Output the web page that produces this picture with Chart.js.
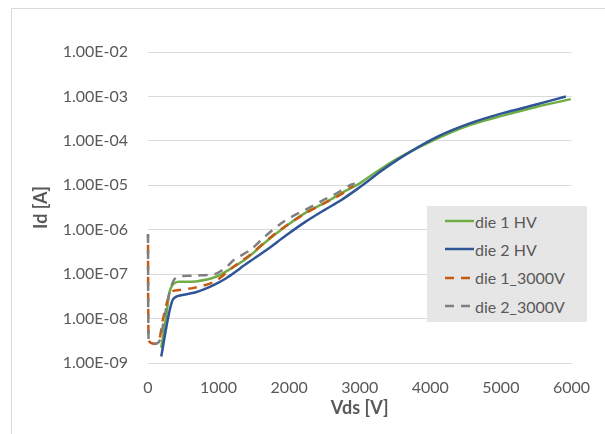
<!DOCTYPE html>
<html>
<head>
<meta charset="utf-8">
<script src="https://cdn.jsdelivr.net/npm/chart.js@4.4.1/dist/chart.umd.min.js"></script>
<style>
  body { margin: 0; background: #fff; }
  #wrap { position: relative; width: 605px; height: 434px; }
  #legend {
    position: absolute; left: 427px; top: 206px; width: 160px; height: 116px;
    background: #e7e6e6; font: 16px Lato, sans-serif; color: #595959;
    padding-top: 1px; box-sizing: border-box;
  }
  #legend .row { display: flex; align-items: center; height: 28.3px; }
  #legend svg { margin-left: 18px; margin-right: 1px; }
</style>
</head>
<body>
<div id="wrap">
  <canvas id="grafico" width="605" height="434"></canvas>
  <div id="legend"></div>
</div>
<script>
// Vds [V] / Id [A] readings per die
const die1HvV = [188, 257, 303, 348, 417, 530, 700, 943, 1128, 1404, 1679, 1954, 2229, 2504, 2779, 2963, 3147, 3510, 4110, 4569, 5028, 5487, 5990];
const die1HvI = [2.2e-9, 1.1e-8, 3.8e-8, 5.8e-8, 6.7e-8, 6.7e-8, 6.9e-8, 8.5e-8, 1.2e-7, 2.3e-7, 5.5e-7, 1.2e-6, 2.4e-6, 4.0e-6, 7.2e-6, 1.02e-5, 1.6e-5, 3.8e-5, 1.15e-4, 2.3e-4, 3.7e-4, 5.7e-4, 8.7e-4];

const die2HvV = [188, 279, 348, 417, 650, 800, 943, 1128, 1404, 1679, 1954, 2229, 2504, 2734, 2963, 3147, 3284, 3651, 4110, 4569, 5028, 5487, 5921];
const die2HvI = [1.4e-9, 9.3e-9, 2.6e-8, 3.2e-8, 3.8e-8, 4.6e-8, 5.8e-8, 8.5e-8, 1.75e-7, 3.5e-7, 7.4e-7, 1.5e-6, 2.8e-6, 4.6e-6, 8.2e-6, 1.35e-5, 2.0e-5, 4.9e-5, 1.26e-4, 2.5e-4, 4.2e-4, 6.5e-4, 1.0e-3];

const die1_3000V = [0, 8, 80, 150, 210, 279, 348, 440, 650, 943, 1220, 1449, 1816, 2183, 2504, 2734, 2826, 2911];
const die1_3000I = [7.7e-7, 3.3e-9, 2.7e-9, 3.0e-9, 9.3e-9, 2.6e-8, 4.1e-8, 4.4e-8, 4.9e-8, 6.8e-8, 1.5e-7, 2.75e-7, 8.5e-7, 2.1e-6, 4.0e-6, 6.2e-6, 7.9e-6, 9.8e-6];

const die2_3000V = [0, 8, 96, 162, 234, 303, 372, 440, 650, 943, 1100, 1220, 1449, 1633, 1862, 2046, 2229, 2459, 2642, 2872, 2930];
const die2_3000I = [8.0e-7, 3.3e-9, 2.7e-9, 3.1e-9, 1.1e-8, 3.8e-8, 7.6e-8, 8.9e-8, 9.3e-8, 1.0e-7, 1.4e-7, 2.1e-7, 3.5e-7, 6.5e-7, 1.3e-6, 2.0e-6, 2.8e-6, 4.4e-6, 6.2e-6, 1.02e-5, 1.1e-5];

const xTickLabels = ['0', '1000', '2000', '3000', '4000', '5000', '6000'];
const yTicks = [1e-9, 1e-8, 1e-7, 1e-6, 1e-5, 1e-4, 1e-3, 1e-2];
const yTickLabels = ['1.00E-09', '1.00E-08', '1.00E-07', '1.00E-06', '1.00E-05', '1.00E-04', '1.00E-03', '1.00E-02'];

const pontos = (xs, ys) => xs.map((x, i) => ({ x: x, y: ys[i] }));

const cinza = '#595959';
const grade = '#d9d9d9';

function serie(label, xs, ys, cor, tracejado, deslocamento, ordem) {
    return {
        label: label,
        data: pontos(xs, ys),
        borderColor: cor,
        backgroundColor: cor,
        borderWidth: 2.5,
        borderDash: tracejado,
        borderDashOffset: deslocamento,
        pointRadius: 0,
        tension: 0.3,
        clip: 4,
        order: ordem
    };
}

const datasets = [
    serie('die 1 HV', die1HvV, die1HvI, '#70ad47', [], 0, 3),
    serie('die 2 HV', die2HvV, die2HvI, '#2f5597', [], 0, 2),
    serie('die 1_3000V', die1_3000V, die1_3000I, '#c55a11', [9, 7], 6, 1),
    serie('die 2_3000V', die2_3000V, die2_3000I, '#7f7f7f', [9, 7], 0, 0)
];

// outer chart frame
const moldura = {
    id: 'moldura',
    beforeDraw(chart) {
        const ctx = chart.ctx;
        ctx.save();
        ctx.strokeStyle = grade;
        ctx.lineWidth = 1;
        ctx.strokeRect(11.5, 8.5, 640, 460);
        ctx.restore();
    }
};

Chart.defaults.font.family = 'Lato, sans-serif';

const grafico = new Chart(document.getElementById('grafico').getContext('2d'), {
    type: 'scatter',
    data: { datasets: datasets },
    options: {
        responsive: false,
        animation: false,
        showLine: true,
        layout: { padding: { left: 0, top: 52, right: 21, bottom: 0 } },
        plugins: {
            legend: { display: false },
            tooltip: { enabled: false }
        },
        scales: {
            x: {
                type: 'linear',
                min: 0,
                max: 6000,
                afterFit: function (scale) { scale.height = 71; },
                grid: { display: false, drawTicks: false },
                border: { display: true, color: grade, width: 1 },
                ticks: {
                    stepSize: 1000,
                    padding: 15,
                    color: cinza,
                    font: { size: 16 },
                    callback: function (v, i) { return xTickLabels[i]; }
                },
                title: {
                    display: true,
                    text: 'Vds [V]',
                    color: cinza,
                    font: { size: 18, weight: 'bold' },
                    padding: { top: 0, bottom: 15 }
                }
            },
            y: {
                type: 'logarithmic',
                min: 1e-9,
                max: 1e-2,
                afterFit: function (scale) { scale.width = 148; },
                afterBuildTicks: function (scale) {
                    scale.ticks = yTicks.map(v => ({ value: v }));
                },
                grid: { color: grade, lineWidth: 1, drawTicks: false },
                border: { display: false },
                ticks: {
                    padding: 20,
                    color: cinza,
                    font: { size: 16 },
                    callback: function (v, i) { return yTickLabels[i]; }
                },
                title: {
                    display: true,
                    text: 'Id [A]',
                    color: cinza,
                    font: { size: 18, weight: 'bold' },
                    padding: { top: 30, bottom: 0 }
                }
            }
        }
    },
    plugins: [moldura]
});

// legend box
const legenda = document.getElementById('legend');
grafico.data.datasets.forEach(ds => {
    const linha = document.createElement('div');
    linha.className = 'row';
    const dash = ds.borderDash.length ? ds.borderDash.join(' ') : 'none';
    linha.innerHTML = '<svg width="29" height="6"><line x1="0" y1="3" x2="29" y2="3" stroke="' + ds.borderColor +
        '" stroke-width="2.5" stroke-dasharray="' + dash + '"/></svg>';
    const txt = document.createElement('span');
    txt.textContent = ds.label;
    linha.appendChild(txt);
    legenda.appendChild(linha);
});
</script>
</body>
</html>
